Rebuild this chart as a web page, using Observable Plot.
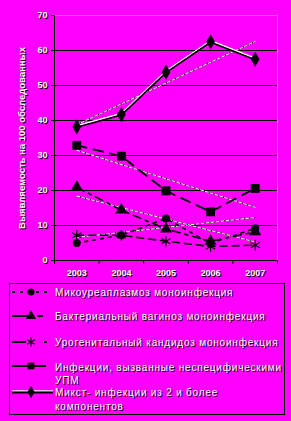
<!DOCTYPE html>
<html><head><meta charset="utf-8">
<script src="https://cdn.jsdelivr.net/npm/d3@7"></script>
<script src="https://cdn.jsdelivr.net/npm/@observablehq/plot@0.6"></script>
<style>
html,body{margin:0;padding:0;background:#FF00FF;width:291px;height:421px;overflow:hidden;font-family:"Liberation Sans",Arial,sans-serif;}
#chart svg{display:block;}
#legend{position:absolute;left:9px;top:283px;width:276px;height:132px;border:1px solid #000;box-sizing:border-box;}
#legend .sym{position:absolute;left:0;}
#legend .txt{position:absolute;left:45px;color:#fff;font-size:10px;letter-spacing:0.8px;text-shadow:1px 1px 0 #000;white-space:nowrap;line-height:13.5px;}
</style></head>
<body>
<div id="chart"></div>
<div id="legend"></div>
<script>
const years = [2003, 2004, 2005, 2006, 2007];
const seriesNames = [
  "Микоуреаплазмоз моноинфекция",
  "Бактериальный вагиноз моноинфекция",
  "Урогенитальный кандидоз моноинфекция",
  "Инфекции, вызванные неспецифическими УПМ",
  "Микст- инфекции из 2 и более компонентов"
];
const myco    = [5.0, 7.2, 12.0, 4.9, 9.2];
const bv      = [20.9, 14.4, 9.0, 5.5, 8.2];
const candida = [7.2, 7.2, 5.5, 4.0, 4.4];
const upm     = [32.9, 29.8, 19.9, 13.9, 20.6];
const mixed   = [38.2, 41.7, 53.8, 62.5, 57.5];

// trend lines (start 2003, end 2007)
const trendYears = [2003, 2007];
const mycoTrend  = [6.6, 12.3];
const bvTrend    = [18.4, 5.3];
const upmTrend   = [31.5, 15.2];
const mixedTrend = [38.8, 62.6];

const yTicks = [0, 10, 20, 30, 40, 50, 60, 70];
const gridVals = [10, 20, 30, 40, 50, 60];
const bandEdges = [2002.5, 2003.5, 2004.5, 2005.5, 2006.5, 2007.5];
const yTitle = "Выявляемость на 100 обследованных";

const rows = arr => years.map((year, i) => ({year, value: arr[i]}));
const trows = arr => trendYears.map((year, i) => ({year, value: arr[i]}));

const lbl = {fontSize: 9, fontWeight: "bold", fontFamily: "Liberation Sans, Arial, sans-serif"};
const ttl = {fontSize: 9.5, fontWeight: "bold", fontFamily: "Liberation Sans, Arial, sans-serif", letterSpacing: "1.25px"};

function trend(arr) {
  return [
    Plot.line(trows(arr), {x: "year", y: "value", stroke: "black", strokeWidth: 1}),
    Plot.line(trows(arr), {x: "year", y: "value", stroke: "white", strokeWidth: 1, strokeDasharray: "3,2"})
  ];
}

const chart = Plot.plot({
  width: 291, height: 280,
  marginLeft: 54, marginRight: 14, marginTop: 15, marginBottom: 20,
  style: {background: "transparent", overflow: "visible"},
  x: {type: "linear", domain: [2002.5, 2007.5], axis: null},
  y: {domain: [0, 70], axis: null},
  marks: [
    Plot.ruleY(gridVals, {stroke: "black", strokeWidth: 1}),
    Plot.ruleY([70], {stroke: "#9a9a9a", strokeWidth: 1}),
    Plot.ruleX([2007.5], {stroke: "#9a9a9a", strokeWidth: 1}),
    Plot.ruleY([0], {stroke: "black", strokeWidth: 1}),
    Plot.ruleX([2002.5], {stroke: "black", strokeWidth: 1}),
    Plot.axisY({ticks: yTicks, tickSize: 3, tickFormat: () => "", stroke: "black", label: null}),
    Plot.axisX({ticks: bandEdges, tickSize: 4, tickFormat: () => "", stroke: "black", label: null}),
    Plot.axisY({ticks: yTicks, tickSize: 0, tickPadding: 7, fill: "black", dx: 1, dy: 1, label: null, ...lbl}),
    Plot.axisY({ticks: yTicks, tickSize: 0, tickPadding: 7, fill: "white", label: null, ...lbl}),
    Plot.axisX({ticks: years, tickSize: 0, tickPadding: 9, tickFormat: d => String(d), fill: "black", dx: 1, dy: 1, label: null, ...lbl}),
    Plot.axisX({ticks: years, tickSize: 0, tickPadding: 9, tickFormat: d => String(d), fill: "white", label: null, ...lbl}),
    Plot.text([yTitle], {frameAnchor: "left", textAnchor: "middle", lineAnchor: "middle", rotate: -90, dx: -32, dy: 1, fill: "black", ...ttl}),
    Plot.text([yTitle], {frameAnchor: "left", textAnchor: "middle", lineAnchor: "middle", rotate: -90, dx: -33, fill: "white", ...ttl}),
    ...trend(mycoTrend),
    ...trend(bvTrend),
    ...trend(upmTrend),
    ...trend(mixedTrend),
    Plot.line(rows(myco), {x: "year", y: "value", stroke: "black", strokeWidth: 1.6, strokeDasharray: "3,5"}),
    Plot.line(rows(bv), {x: "year", y: "value", stroke: "black", strokeWidth: 1.6, strokeDasharray: "8,5,3,5"}),
    Plot.line(rows(candida), {x: "year", y: "value", stroke: "black", strokeWidth: 1.6, strokeDasharray: "7,5"}),
    Plot.line(rows(upm), {x: "year", y: "value", stroke: "black", strokeWidth: 1.8, strokeDasharray: "10,7"}),
    Plot.line(rows(mixed), {x: "year", y: "value", stroke: "white", strokeWidth: 1.5, dy: -1}),
    Plot.line(rows(mixed), {x: "year", y: "value", stroke: "black", strokeWidth: 1.6, dy: 0.5}),
    Plot.dot(rows(myco), {x: "year", y: "value", symbol: "circle", r: 4, fill: "black"}),
    Plot.dot(rows(bv), {x: "year", y: "value", symbol: "triangle", r: 4.5, fill: "black"}),
    Plot.dot(rows(candida), {x: "year", y: "value", symbol: "asterisk", r: 5, fill: "none", stroke: "black", strokeWidth: 1.2}),
    Plot.dot(rows(upm), {x: "year", y: "value", symbol: "square", r: 5, fill: "black"}),
    Plot.dot(rows(mixed), {x: "year", y: "value", symbol: "diamond", r: 4.6, fill: "black"})
  ]
});
document.getElementById("chart").append(chart);

// Legend (HTML + small SVG symbols)
const legend = document.getElementById("legend");
const ns = "http://www.w3.org/2000/svg";
const symDefs = [
  {y: 7.5, dash: "3,5", line: [2, 41], sym: "circle"},
  {y: 32, dash: "18,7,6,20", line: [2, 41], sym: "triangle"},
  {y: 58, dash: "14,18,3,20", line: [2, 37], sym: "asterisk"},
  {y: 82, dash: null, line: [2, 36], sym: "square"},
  {y: 107.5, dash: null, line: [2, 43], sym: "diamond", white: true}
];
const textPos = [[1.5, [seriesNames[0]]], [26, [seriesNames[1]]], [52, [seriesNames[2]]],
  [76.5, ["Инфекции, вызванные неспецифическими", "УПМ"]], [102, ["Микст- инфекции из 2 и более", "компонентов"]]];
const symbolTypes = {circle: d3.symbolCircle, triangle: d3.symbolTriangle, asterisk: d3.symbolAsterisk, square: d3.symbolSquare, diamond: d3.symbolDiamond};
symDefs.forEach((s, i) => {
  const svg = document.createElementNS(ns, "svg");
  svg.setAttribute("width", 45); svg.setAttribute("height", 12);
  svg.setAttribute("class", "sym");
  svg.style.top = (s.y - 6) + "px";
  if (s.white) {
    const lw = document.createElementNS(ns, "line");
    lw.setAttribute("x1", s.line[0]); lw.setAttribute("x2", s.line[1]);
    lw.setAttribute("y1", 5); lw.setAttribute("y2", 5);
    lw.setAttribute("stroke", "white"); lw.setAttribute("stroke-width", 1.6);
    svg.append(lw);
  }
  const l = document.createElementNS(ns, "line");
  l.setAttribute("x1", s.line[0]); l.setAttribute("x2", s.line[1]);
  l.setAttribute("y1", s.white ? 6.5 : 6); l.setAttribute("y2", s.white ? 6.5 : 6);
  l.setAttribute("stroke", "black"); l.setAttribute("stroke-width", 1.8);
  if (s.dash) l.setAttribute("stroke-dasharray", s.dash);
  svg.append(l);
  const p = document.createElementNS(ns, "path");
  const sz = s.sym === "circle" ? 40 : s.sym === "asterisk" ? 60 : 45;
  p.setAttribute("d", d3.symbol(symbolTypes[s.sym], sz)());
  p.setAttribute("transform", "translate(21,6)");
  if (s.sym === "asterisk") { p.setAttribute("fill", "none"); p.setAttribute("stroke", "black"); p.setAttribute("stroke-width", 1.2); }
  else p.setAttribute("fill", "black");
  svg.append(p);
  legend.append(svg);
});
textPos.forEach(([top, lines]) => {
  const d = document.createElement("div");
  d.className = "txt";
  d.style.top = top + "px";
  d.innerHTML = lines.join("<br>");
  legend.append(d);
});
</script>
</body></html>
